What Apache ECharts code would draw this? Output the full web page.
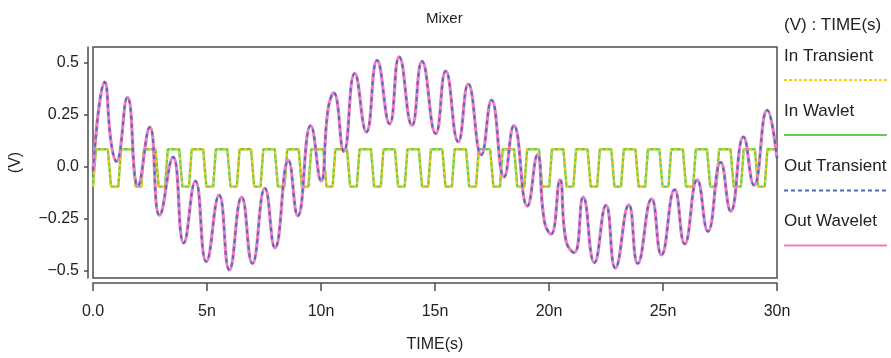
<!DOCTYPE html>
<html><head><meta charset="utf-8">
<script src="https://cdn.jsdelivr.net/npm/echarts@6/dist/echarts.min.js"></script>
<style>html,body{margin:0;padding:0;background:#fff}#c{width:891px;height:358px}</style>
</head><body><div id="c"></div>
<script>
// ---- data (time in ns, voltage in V) ----
const xTickValues = [0, 5, 10, 15, 20, 25, 30];
const xTickLabels = ['0.0', '5n', '10n', '15n', '20n', '25n', '30n'];
const yTickValues = [-0.5, -0.25, 0, 0.25, 0.5];
const yTickLabels = ['\u22120.5', '\u22120.25', '0.0', '0.25', '0.5'];

const seriesNames = ['In Transient', 'In Wavlet', 'Out Transient', 'Out Wavelet'];

// input square wave: edge centres
const inHigh = 0.083;
const inLow = -0.097;
const inRise = [0.07, 1.17, 2.18, 3.22, 4.27, 5.33, 6.37, 7.41, 8.46, 9.51, 10.57, 11.63, 12.68, 13.73, 14.76,
  15.8, 16.86, 17.91, 18.98, 20.07, 21.13, 22.17, 23.22, 24.28, 25.3, 26.38, 27.4, 28.48, 29.52];
const inFall = [0.72, 1.8, 2.81, 3.85, 4.9, 5.96, 7.0, 8.04, 9.09, 10.17, 11.21, 12.26, 13.31, 14.36, 15.39,
  16.43, 17.49, 18.54, 19.63, 20.7, 21.76, 22.8, 23.86, 24.91, 25.94, 27.0, 28.03, 29.1];

// output waveform: peaks / troughs / shoulders
const outTime = [0, 0.51, 0.8, 1.02, 1.51, 1.97, 2.49, 2.92, 3.51, 3.98, 4.49, 4.97,
  5.53, 5.98, 6.52, 6.99, 7.54, 7.98, 8.57, 8.98, 9.55,
  10.0, 10.31, 10.56, 11.0, 11.48, 11.99, 12.46, 13.01, 13.43, 13.99, 14.43,
  15.03, 15.47, 16.02, 16.46, 17.03, 17.48, 18.03, 18.46, 19.05, 19.49,
  19.8, 20.09, 20.48, 20.75, 21.11, 21.5, 21.99, 22.5, 22.91, 23.5, 23.89, 24.5,
  24.93, 25.51, 25.95, 26.5, 26.97, 27.53, 27.97, 28.53, 28.99, 29.57, 30.0];
const outVolt = [-0.02, 0.406, 0.111, 0.024, 0.333, -0.093, 0.189, -0.235, 0.045, -0.368, -0.07, -0.458,
  -0.138, -0.498, -0.148, -0.467, -0.105, -0.392, 0.029, -0.238, 0.197,
  -0.07, 0.276, 0.354, 0.072, 0.448, 0.166, 0.511, 0.205, 0.527, 0.197, 0.506,
  0.158, 0.459, 0.119, 0.397, 0.056, 0.319, -0.051, 0.197, -0.191, 0.056,
  -0.266, -0.326, -0.065, -0.36, -0.415, -0.148, -0.463, -0.187, -0.489, -0.185, -0.467, -0.156,
  -0.426, -0.112, -0.373, -0.065, -0.313, 0.02, -0.216, 0.142, -0.09, 0.271, 0.04];

// ---- build tables ----
const inData = [[0, inLow]];
for (let i = 0; i < inRise.length; i++) {
  inData.push([inRise[i] - 0.06, inLow], [inRise[i] + 0.06, inHigh]);
  if (i < inFall.length) inData.push([inFall[i] - 0.07, inHigh], [inFall[i] + 0.07, inLow]);
}
inData.push([30, inHigh]);
const outData = outTime.map((t, i) => [t, outVolt[i]]);

const FONT = 'Liberation Sans, Arial, sans-serif';
const colors = { inT: '#FACB10', inW: '#66CC55', outT: '#4A6EBF', outW: '#F27DBD' };
const axisColor = '#4d4d4d';

const legendItems = [
  { name: seriesNames[0], color: colors.inT, dash: [3, 2], ty: 58, ly: 80 },
  { name: seriesNames[1], color: colors.inW, dash: null, ty: 113, ly: 135 },
  { name: seriesNames[2], color: colors.outT, dash: [4, 3], ty: 168, ly: 190.5 },
  { name: seriesNames[3], color: colors.outW, dash: null, ty: 223, ly: 245.5 }
];
const graphics = [{
  type: 'text', left: 784, top: 17,
  style: { text: '(V) : TIME(s)', font: '17px ' + FONT, fill: '#222' }
}];
legendItems.forEach(it => {
  graphics.push({ type: 'text', left: 784, top: it.ty - 10,
    style: { text: it.name, font: '17px ' + FONT, fill: '#222' } });
  graphics.push({ type: 'line', shape: { x1: 784, y1: it.ly, x2: 887, y2: it.ly },
    style: { stroke: it.color, lineWidth: 2, lineDash: it.dash } });
});

const chart = echarts.init(document.getElementById('c'), null, { renderer: 'canvas' });
chart.setOption({
  animation: false,
  backgroundColor: '#fff',
  title: { text: 'Mixer', left: 421, top: 6,
    textStyle: { fontFamily: FONT, fontSize: 15, fontWeight: 'normal', color: '#222' } },
  grid: { left: 93, right: 114, top: 47, bottom: 75, show: true,
    borderColor: axisColor, borderWidth: 1.5, backgroundColor: 'transparent' },
  graphic: graphics,
  xAxis: {
    type: 'value', min: 0, max: 30, interval: 5, offset: 5,
    name: 'TIME(s)', nameLocation: 'middle', nameGap: 54,
    nameTextStyle: { fontFamily: FONT, fontSize: 16, color: '#222' },
    axisLine: { show: true, onZero: false, lineStyle: { color: axisColor, width: 1.5 } },
    axisTick: { show: true, length: 8, lineStyle: { color: axisColor, width: 1.5 } },
    axisLabel: { margin: 21, fontFamily: FONT, fontSize: 16, color: '#222',
      formatter: v => { const k = xTickValues.indexOf(v); return k >= 0 ? xTickLabels[k] : ''; } },
    splitLine: { show: false }
  },
  yAxis: {
    type: 'value', min: -0.537, max: 0.575, offset: 5,
    name: '(V)', nameLocation: 'middle', nameGap: 64, nameRotate: 90,
    nameTextStyle: { fontFamily: FONT, fontSize: 16, color: '#222' },
    axisLine: { show: true, onZero: false, lineStyle: { color: axisColor, width: 1.5 } },
    axisTick: { show: true, length: 4, customValues: yTickValues, lineStyle: { color: axisColor, width: 1.5 } },
    axisLabel: { margin: 9, fontFamily: FONT, fontSize: 16, color: '#222', customValues: yTickValues,
      formatter: v => { const k = yTickValues.findIndex(t => Math.abs(t - v) < 1e-9); return k >= 0 ? yTickLabels[k] : ''; } },
    splitLine: { show: false }
  },
  series: [
    { name: seriesNames[1], type: 'line', data: inData, showSymbol: false, z: 2,
      lineStyle: { color: colors.inW, width: 2.4 } },
    { name: seriesNames[0], type: 'line', data: inData, showSymbol: false, z: 3,
      lineStyle: { color: colors.inT, width: 2, type: [3, 3] } },
    { name: seriesNames[3], type: 'line', data: outData, showSymbol: false, smooth: 0.5, z: 4,
      lineStyle: { color: colors.outW, width: 3.2 } },
    { name: seriesNames[2], type: 'line', data: outData, showSymbol: false, smooth: 0.5, z: 5,
      lineStyle: { color: colors.outT, width: 2, type: [4, 4] } }
  ]
});
</script></body></html>
